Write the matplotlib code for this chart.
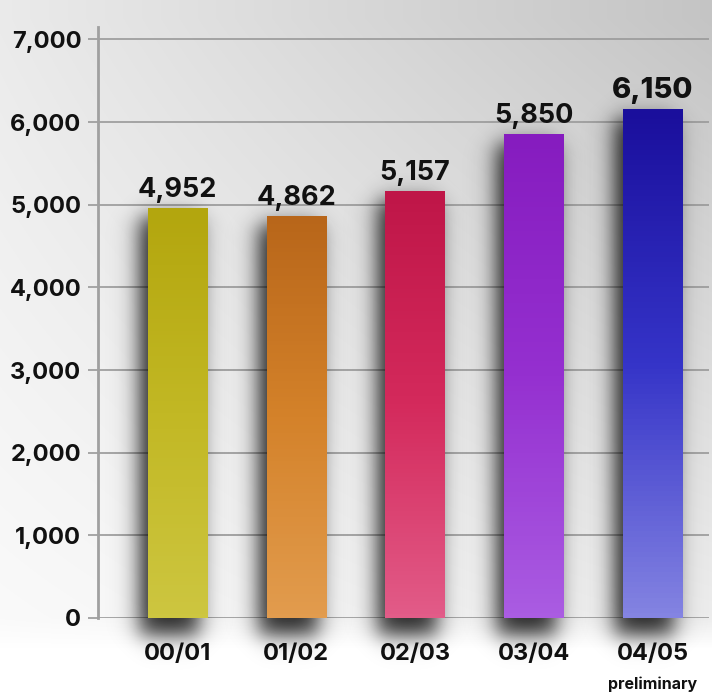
import numpy as np
import matplotlib
matplotlib.use("Agg")
import matplotlib.pyplot as plt
from matplotlib.colors import to_rgb

years = ["00/01", "01/02", "02/03", "03/04", "04/05"]
totals = [4952, 4862, 5157, 5850, 6150]
y_ticks = [0, 1000, 2000, 3000, 4000, 5000, 6000, 7000]
# top, middle, bottom colour of each bar
bar_colors = [
    ("#b3a60e", "#c2b824", "#cdc640"),
    ("#b8661a", "#d4822a", "#e29c4e"),
    ("#bf1648", "#d42a5c", "#e25c88"),
    ("#861cbf", "#9530d0", "#aa5ce2"),
    ("#1a0f9c", "#3534c8", "#8484e2"),
]

plt.rcParams['font.family'] = ['Inter', 'DejaVu Sans']

W, H = 712, 694
fig = plt.figure(figsize=(W / 100, H / 100), dpi=100)

# grey backdrop, darker toward the upper right, fading to white below the baseline
bg = fig.add_axes([0, 0, 1, 1])
px, py = np.meshgrid(np.arange(W), np.arange(H))
xf = px / W
yf = np.clip((618 - py) / 600, 0, 1)
g = 0.98 - 0.05 * xf - 0.06 * yf - 0.10 * xf * yf
fade = np.clip((py - 618) / 30, 0, 1)
g = g + (1 - g) * fade
bg.imshow(np.dstack([g, g, g]), extent=[0, 1, 0, 1], aspect="auto")
bg.axis("off")

ax = fig.add_axes([98 / W, 76 / H, 611 / W, 591 / H])
ax.patch.set_alpha(0)

xpx = 118.75          # pixels per category
ypx = 82.7 / 1000     # pixels per unit value
bw = 0.5


def soft(d, w=13.0):
    return 0.5 * (1 + np.tanh(d / w))


def gradient(cols, n=100):
    c0, c1, c2 = (np.array(to_rgb(c)) for c in cols)
    rows = []
    for t in np.linspace(0, 1, n):
        if t < 0.5:
            rows.append(c0 + (c1 - c0) * t / 0.5)
        else:
            rows.append(c1 + (c2 - c1) * (t - 0.5) / 0.5)
    return np.array(rows)[:, None, :]


for i, (v, cols) in enumerate(zip(totals, bar_colors)):
    # blurred drop shadow
    xs = np.linspace(i - 0.8, i + 0.7, 180)
    ys = np.linspace(-700, v + 600, 240)
    X, Y = np.meshgrid(xs, ys[::-1])
    dx = (X - i) * xpx
    dy = Y * ypx
    left, right = -bw / 2 * xpx - 8, bw / 2 * xpx - 8
    bottom, top = -18, v * ypx - 8
    a = 0.85 * soft(dx - left) * soft(right - dx) * soft(dy - bottom) * soft(top - dy)
    sh = np.zeros(a.shape + (4,))
    sh[..., 3] = a
    ax.imshow(sh, extent=[xs[0], xs[-1], ys[0], ys[-1]], aspect="auto",
              zorder=2, clip_on=False, interpolation="bilinear")

    # bar with a vertical colour gradient
    ax.imshow(gradient(cols), extent=[i - bw / 2, i + bw / 2, 0, v],
              aspect="auto", zorder=3)

    big = i == len(totals) - 1
    ax.annotate(f"{v:,}", (i, v), xytext=(0, 4), textcoords="offset points",
                ha="center", va="bottom", color="#111111",
                fontsize=21 if big else 19.5,
                fontweight=800 if big else "bold", zorder=5)

ax.set_xlim(-0.669, 4.476)
ax.set_ylim(0, 7150)
ax.set_yticks(y_ticks)
ax.set_yticklabels([f"{t:,}" for t in y_ticks], fontsize=17,
                   fontweight="bold", color="#111111")
ax.set_xticks(range(len(years)))
ax.set_xticklabels(years, fontsize=17, fontweight="bold", color="#111111")
ax.tick_params(axis="x", length=0, pad=18)
ax.tick_params(axis="y", length=7, width=1.2, color="#999999", pad=5)
ax.grid(axis="y", color="#999999", linewidth=1.2, zorder=1)
ax.set_axisbelow(True)
for s in ["top", "right", "bottom"]:
    ax.spines[s].set_visible(False)
ax.spines["left"].set_color("#a0a0a0")
ax.spines["left"].set_linewidth(2)

ax.annotate("preliminary", (4, 0), xytext=(0, -42), textcoords="offset points",
            ha="center", va="top", fontsize=11.5, fontweight="bold",
            color="#111111", annotation_clip=False)

fig.savefig("out.png", dpi=100)
